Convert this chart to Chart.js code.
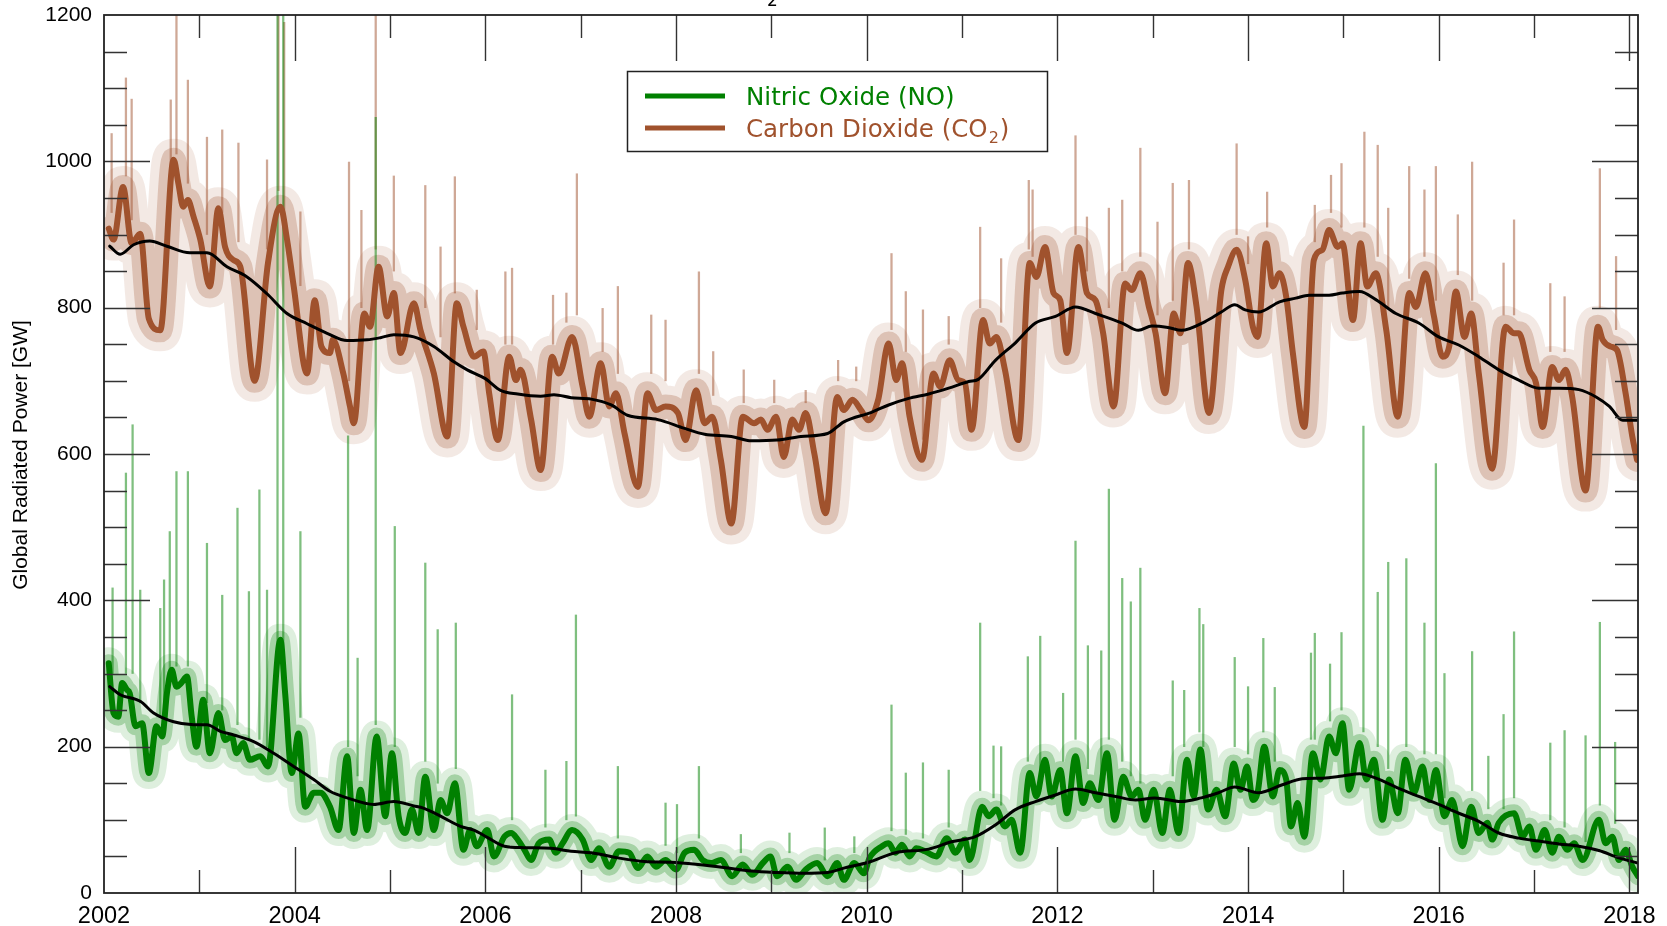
<!DOCTYPE html>
<html>
<head>
<meta charset="utf-8">
<script src="https://cdn.jsdelivr.net/npm/chart.js@4.4.1/dist/chart.umd.min.js"></script>
<style>
  html, body { margin: 0; padding: 0; background: #ffffff; }
  #wrap { width: 1667px; height: 926px; }
</style>
</head>
<body>
<div id="wrap"><canvas id="c" width="1667" height="926"></canvas></div>
<script>
// ---------------- DATA ----------------
const xTickLabels = [2002, 2004, 2006, 2008, 2010, 2012, 2014, 2016, 2018];
const yTickLabels = [0, 200, 400, 600, 800, 1000, 1200];

// CO2: smoothed (thick) series, time [year] and value [GW]
const coTimes = [2002.05,2002.10,2002.20,2002.29,2002.38,2002.47,2002.59,2002.73,2002.78,2002.83,2002.88,2002.94,2003.01,2003.11,2003.20,2003.27,2003.36,2003.43,2003.58,2003.72,2003.85,2003.92,2003.99,2004.13,2004.21,2004.28,2004.37,2004.40,2004.51,2004.58,2004.62,2004.73,2004.79,2004.88,2004.97,2005.04,2005.11,2005.25,2005.32,2005.46,2005.60,2005.70,2005.77,2005.88,2005.98,
 2006.04,2006.13,2006.25,2006.32,2006.37,2006.48,2006.58,2006.70,2006.77,2006.91,2007.02,2007.09,2007.21,2007.30,2007.37,2007.46,2007.60,2007.70,2007.79,2007.89,2008.02,2008.10,2008.21,2008.30,2008.38,2008.47,2008.58,2008.70,2008.82,2008.89,2008.96,2009.05,2009.13,2009.22,2009.29,2009.36,2009.45,2009.57,2009.69,2009.76,2009.85,2009.94,
 2010.02,2010.12,2010.23,2010.31,2010.37,2010.45,2010.58,2010.70,2010.77,2010.87,2010.96,2011.03,2011.10,2011.22,2011.29,2011.36,2011.45,2011.59,2011.71,2011.78,2011.87,2011.96,2012.03,2012.10,2012.22,2012.31,2012.40,2012.48,2012.59,2012.71,2012.78,2012.87,2012.96,2013.03,2013.13,2013.22,2013.29,2013.37,2013.46,2013.59,2013.72,2013.79,2013.88,2013.97,
 2014.05,2014.10,2014.19,2014.26,2014.33,2014.40,2014.47,2014.59,2014.69,2014.78,2014.85,2014.94,2014.99,2015.10,2015.18,2015.25,2015.34,2015.45,2015.57,2015.69,2015.76,2015.86,2015.95,2016.04,2016.11,2016.18,2016.27,2016.34,2016.42,2016.56,2016.70,2016.79,2016.84,2016.95,2017.02,2017.09,2017.19,2017.26,2017.33,2017.40,2017.54,2017.67,2017.72,2017.80,2017.87,2017.96,2018.03,2018.08];
const coThick = [908,893,965,888,901,785,769,1002,970,938,947,924,893,829,936,883,865,856,700,861,938,893,829,710,810,747,738,756,710,665,642,792,774,856,788,820,738,806,769,710,624,806,774,733,740,
 683,619,733,701,715,647,578,733,710,760,692,651,724,665,683,628,555,683,660,665,656,619,687,642,651,592,505,651,642,647,633,651,596,647,633,656,601,519,678,660,674,660,
 646,674,751,701,724,651,592,710,692,728,701,697,633,783,751,760,715,619,861,842,883,820,810,738,883,820,810,765,665,833,824,847,801,765,683,792,765,861,801,656,824,856,879,838,
 774,760,888,829,847,815,738,637,865,879,906,883,888,783,888,829,847,769,651,820,801,847,788,733,747,822,760,792,710,580,774,765,765,715,697,637,719,701,715,678,550,774,756,747,742,683,624,592];

// CO2: long running mean (black)
const coMeanT = [2002.06,2002.17,2002.31,2002.48,2002.66,2002.90,2003.08,2003.29,2003.50,2003.71,2003.92,2004.13,2004.34,2004.55,2004.76,2004.90,2005.04,2005.25,2005.46,2005.67,2005.81,2006.00,2006.16,2006.34,2006.58,2006.72,2006.90,2007.11,2007.32,2007.49,2007.81,2008.09,2008.30,2008.58,2008.79,2009.06,2009.31,2009.59,2009.76,2010.05,2010.23,2010.44,2010.65,2010.86,2011.07,2011.17,2011.35,2011.56,2011.77,2011.98,2012.19,2012.40,2012.68,2012.85,2012.99,2013.16,2013.30,2013.55,2013.72,2013.86,2013.97,2014.11,2014.33,2014.50,2014.64,2014.85,2014.99,2015.17,2015.34,2015.55,2015.79,2016.00,2016.21,2016.42,2016.63,2016.84,2017.05,2017.26,2017.47,2017.65,2017.79,2017.93,2018.09];
const coMean = [884,873,886,891,884,875,875,856,842,819,792,778,765,755,756,759,763,760,747,726,715,703,687,682,679,681,677,675,667,653,647,635,627,624,618,619,624,628,644,657,667,676,682,690,699,702,728,752,779,788,801,792,779,769,775,773,769,781,794,804,797,794,808,813,817,817,820,822,811,792,779,760,749,733,715,701,690,690,688,678,665,646,646];

// CO2: tall thin daily spikes (time, base, top)
const coSpikeT    = [2002.08,2002.23,2002.29,2002.70,2002.76,2002.88,2003.08,2003.24,2003.41,2003.71,2003.83,2003.89,2004.06,2004.57,2004.70,2004.85,2005.04,2005.37,2005.53,2005.68,2005.91,2006.21,2006.28,2006.71,2006.85,2006.96,2007.23,2007.39,2007.74,2007.89,2008.24,2008.39,2008.71,2009.03,2009.36,2009.70,2009.89,2010.26,2010.41,2010.59,2010.86,2011.19,2011.41,2011.70,2011.74,2012.19,2012.31,2012.54,2012.68,2012.87,2013.05,2013.21,2013.38,2013.88,2014.00,2014.20,2014.70,2014.87,2014.98,2015.22,2015.36,2015.47,2015.69,2015.85,2015.97,2016.20,2016.35,2016.68,2016.79,2017.17,2017.32,2017.69,2017.86];
const coSpikeBase = [930,980,920,990,1010,970,900,930,890,880,960,930,830,700,800,880,850,800,760,820,770,750,750,750,780,790,740,710,710,700,710,680,670,670,670,700,700,770,740,620,750,800,780,880,870,900,850,800,850,870,790,810,880,900,860,910,890,930,910,910,870,800,840,870,810,845,810,790,790,740,740,800,770];
const coSpikeTop  = [1038,1114,1085,1084,1205,1111,1033,1043,1025,1002,1205,1190,931,999,933,1205,980,967,883,979,824,849,854,817,820,983,799,829,790,783,849,740,715,701,687,728,719,874,822,797,788,910,867,974,961,1035,924,936,947,1018,917,970,974,1024,897,958,940,981,997,1040,1022,936,993,961,993,927,999,861,920,833,815,990,870];

// NO: smoothed (thick) series
const noTimes = [2002.05,2002.10,2002.15,2002.19,2002.24,2002.27,2002.33,2002.40,2002.47,2002.55,2002.61,2002.66,2002.71,2002.76,2002.81,2002.87,2002.92,2002.97,2003.04,2003.11,2003.20,2003.27,2003.34,2003.39,2003.46,2003.53,2003.64,2003.72,2003.85,2003.90,2003.97,2004.04,2004.11,2004.20,2004.27,2004.37,2004.46,2004.55,2004.62,2004.69,2004.76,2004.86,2004.95,2005.02,2005.09,2005.16,2005.23,2005.30,2005.37,2005.46,2005.53,2005.60,2005.68,2005.77,2005.84,2005.91,2006.02,
 2006.09,2006.20,2006.27,2006.34,2006.41,2006.48,2006.56,2006.67,2006.74,2006.81,2006.91,2007.02,2007.11,2007.19,2007.30,2007.40,2007.51,2007.60,2007.70,2007.79,2007.89,2008.00,2008.09,2008.19,2008.28,2008.37,2008.47,2008.59,2008.70,2008.80,2008.91,2008.99,2009.06,2009.17,2009.26,2009.36,2009.48,2009.59,2009.69,2009.76,2009.87,2009.97,
 2010.03,2010.16,2010.23,2010.30,2010.37,2010.45,2010.52,2010.61,2010.73,2010.84,2010.93,2011.03,2011.08,2011.21,2011.28,2011.36,2011.45,2011.52,2011.61,2011.71,2011.78,2011.87,2011.94,2012.03,2012.10,2012.19,2012.27,2012.34,2012.43,2012.52,2012.60,2012.69,2012.78,2012.85,2012.92,2013.01,2013.10,2013.18,2013.27,2013.36,2013.43,2013.50,2013.58,2013.67,2013.76,2013.85,2013.92,2013.99,
 2014.05,2014.10,2014.17,2014.26,2014.33,2014.40,2014.45,2014.52,2014.59,2014.68,2014.76,2014.85,2014.92,2014.99,2015.06,2015.17,2015.24,2015.32,2015.41,2015.48,2015.57,2015.65,2015.74,2015.83,2015.90,2015.97,2016.06,2016.14,2016.25,2016.34,2016.42,2016.51,2016.56,2016.63,2016.79,2016.88,2016.95,2017.02,2017.11,2017.19,2017.26,2017.35,2017.42,2017.51,2017.68,2017.75,2017.82,2017.89,2017.96,2018.03,2018.09];
const noThick = [314,246,241,287,278,273,228,232,164,228,214,273,305,282,287,296,241,200,264,191,246,209,214,191,205,182,187,173,346,273,164,218,118,137,137,118,86,187,82,141,86,214,105,191,105,82,114,82,159,86,127,109,150,59,86,64,86,
 50,77,82,73,59,45,68,73,55,68,86,73,45,61,36,57,55,34,50,36,45,32,55,59,45,41,45,23,39,25,41,50,23,36,18,32,41,23,41,18,41,27,
 48,64,68,55,66,50,61,57,50,75,55,73,45,118,105,114,91,100,55,164,132,182,132,168,109,187,123,150,127,191,100,159,132,141,100,141,82,141,82,182,132,196,114,141,105,177,141,173,
 127,137,200,132,168,155,91,123,77,191,155,214,191,232,141,205,155,182,100,155,109,182,137,173,127,168,105,127,64,118,82,96,73,96,109,77,91,59,86,55,77,59,68,45,100,68,77,45,59,36,23];

// NO: long running mean (black)
const noMeanT = [2002.06,2002.17,2002.38,2002.52,2002.73,2002.94,2003.08,2003.22,2003.36,2003.57,2003.78,2003.99,2004.20,2004.37,2004.55,2004.83,2005.04,2005.25,2005.35,2005.53,2005.74,2005.88,2006.02,2006.20,2006.41,2006.69,2006.90,2007.11,2007.39,2007.67,2007.95,2008.23,2008.50,2008.79,2009.06,2009.34,2009.59,2009.76,2010.02,2010.30,2010.65,2010.89,2011.14,2011.35,2011.56,2011.77,2011.98,2012.19,2012.40,2012.61,2012.82,2013.02,2013.30,2013.51,2013.69,2013.86,2014.11,2014.36,2014.57,2014.78,2014.99,2015.17,2015.34,2015.58,2015.79,2016.00,2016.21,2016.42,2016.63,2016.84,2017.05,2017.26,2017.47,2017.68,2017.89,2018.09];
const noMean = [282,271,262,246,234,230,230,221,216,207,191,173,155,139,130,121,125,119,116,105,91,86,76,64,62,61,57,55,48,43,42,39,35,30,28,27,28,34,42,55,60,70,77,93,114,125,134,142,137,132,127,130,125,130,137,145,137,148,156,157,160,163,157,143,132,121,109,98,82,75,71,67,64,58,48,41];

// NO: tall thin daily spikes (time, base, top)
const noSpikeT    = [2002.09,2002.23,2002.30,2002.38,2002.59,2002.63,2002.69,2002.76,2002.88,2003.08,2003.24,2003.40,2003.52,2003.63,2003.71,2003.82,2003.88,2004.06,2004.56,2004.66,2004.85,2005.05,2005.37,2005.50,2005.69,2006.28,2006.63,2006.85,2006.95,2007.39,2007.89,2008.01,2008.24,2008.68,2009.19,2009.56,2009.87,2010.26,2010.41,2010.59,2010.86,2011.19,2011.33,2011.41,2011.69,2011.82,2012.06,2012.19,2012.32,2012.46,2012.54,2012.68,2012.77,2012.87,2013.21,2013.33,2013.49,2013.53,2013.86,2014.00,2014.16,2014.28,2014.66,2014.70,2014.86,2014.98,2015.21,2015.36,2015.47,2015.66,2015.85,2015.97,2016.06,2016.35,2016.52,2016.68,2016.79,2017.17,2017.32,2017.54,2017.69,2017.85];
const noSpikeBase = [300,300,300,260,240,240,300,310,310,260,250,230,210,210,200,330,330,240,200,160,230,200,180,150,170,100,90,100,105,75,65,55,75,55,55,45,55,85,80,75,90,140,130,120,180,160,180,210,170,160,210,180,160,150,160,200,220,200,200,190,220,180,210,210,235,250,220,200,170,200,190,190,130,140,115,115,130,100,90,70,120,95];
const noSpikeTop  = [417,574,640,414,389,428,494,576,576,478,407,526,412,551,414,1205,1205,494,625,321,1060,501,451,360,369,271,168,180,380,173,123,121,173,80,82,89,77,257,164,178,168,369,201,200,323,351,273,481,338,331,552,430,398,444,290,277,389,367,322,282,348,281,328,355,313,356,638,411,452,457,369,587,300,330,187,244,357,205,222,215,370,206];

// ---------------- STYLE ----------------
const GREEN = '#008000';
const BROWN = '#A0522D';

const pts = (ts, vs) => ts.map((t, i) => ({ x: t, y: vs[i] }));
const bars = (ts, lo, hi) => ts.map((t, i) => ({ x: t, y: [lo[i], hi[i]] }));

const lineBase = { type: 'line', pointRadius: 0, pointHoverRadius: 0, fill: false, clip: 0, cubicInterpolationMode: 'monotone', borderJoinStyle: 'round', borderCapStyle: 'round' };

const datasets = [
  Object.assign({}, lineBase, { label: 'CO2 mean', data: pts(coMeanT, coMean), borderColor: '#000', borderWidth: 3, order: 0 }),
  Object.assign({}, lineBase, { label: 'NO mean', data: pts(noMeanT, noMean), borderColor: '#000', borderWidth: 3, order: 0 }),
  Object.assign({}, lineBase, { label: 'Nitric Oxide (NO)', data: pts(noTimes, noThick), borderColor: GREEN, borderWidth: 6, order: 1 }),
  Object.assign({}, lineBase, { label: 'Carbon Dioxide (CO2)', data: pts(coTimes, coThick), borderColor: BROWN, borderWidth: 6, order: 2 }),
  { type: 'bar', label: 'NO daily spikes', data: bars(noSpikeT, noSpikeBase, noSpikeTop), backgroundColor: 'rgba(0,128,0,0.5)', barThickness: 1.6, grouped: false, clip: 0, order: 3 },
  { type: 'bar', label: 'CO2 daily spikes', data: bars(coSpikeT, coSpikeBase, coSpikeTop), backgroundColor: 'rgba(160,82,45,0.5)', barThickness: 1.6, grouped: false, clip: 0, order: 4 },
  // daily scatter band around the smoothed curves (soft inner + outer halo)
  Object.assign({}, lineBase, { label: 'NO daily', data: pts(noTimes, noThick), borderColor: 'rgba(0,128,0,0.26)', borderWidth: 18, order: 5 }),
  Object.assign({}, lineBase, { label: 'NO daily outer', data: pts(noTimes, noThick), borderColor: 'rgba(0,128,0,0.13)', borderWidth: 32, order: 6 }),
  Object.assign({}, lineBase, { label: 'CO2 daily', data: pts(coTimes, coThick), borderColor: 'rgba(160,82,45,0.26)', borderWidth: 24, order: 7 }),
  Object.assign({}, lineBase, { label: 'CO2 daily outer', data: pts(coTimes, coThick), borderColor: 'rgba(160,82,45,0.13)', borderWidth: 42, order: 8 })
];

const PLOT = { majorLen: 46, minorLen: 23 };

const framePlugin = {
  id: 'frame',
  afterDatasetsDraw(chart) {
    const { ctx, chartArea: a, scales } = chart;
    const xs = scales.x, ys = scales.y;
    ctx.save();
    ctx.setLineDash([]);
    ctx.strokeStyle = '#333';
    ctx.lineWidth = 1.4;
    ctx.beginPath();
    for (let v = 50; v < 1200; v += 50) {
      const y = Math.round(ys.getPixelForValue(v)) + 0.5;
      const len = (v % 200 === 0) ? PLOT.majorLen : PLOT.minorLen;
      ctx.moveTo(a.left, y); ctx.lineTo(a.left + len, y);
      ctx.moveTo(a.right, y); ctx.lineTo(a.right - len, y);
    }
    for (let yr = 2003; yr <= 2018; yr++) {
      const x = Math.round(xs.getPixelForValue(yr)) + 0.5;
      const len = (yr % 2 === 0) ? PLOT.majorLen : PLOT.minorLen;
      ctx.moveTo(x, a.bottom); ctx.lineTo(x, a.bottom - len);
      ctx.moveTo(x, a.top); ctx.lineTo(x, a.top + len);
    }
    ctx.stroke();
    ctx.strokeStyle = '#222';
    ctx.lineWidth = 1.8;
    ctx.strokeRect(a.left, a.top, a.right - a.left, a.bottom - a.top);
    ctx.restore();
  },
  afterDraw(chart) {
    const { ctx } = chart;
    ctx.save();
    ctx.setLineDash([]);
    const bx = 627, by = 71, bw = 420, bh = 80;
    ctx.fillStyle = '#fff';
    ctx.fillRect(bx, by, bw, bh);
    ctx.strokeStyle = '#222';
    ctx.lineWidth = 1.5;
    ctx.strokeRect(bx + 0.5, by + 0.5, bw, bh);
    ctx.lineWidth = 5;
    ctx.lineCap = 'butt';
    ctx.strokeStyle = GREEN;
    ctx.beginPath(); ctx.moveTo(645, 96); ctx.lineTo(725, 96); ctx.stroke();
    ctx.strokeStyle = BROWN;
    ctx.beginPath(); ctx.moveTo(645, 128); ctx.lineTo(725, 128); ctx.stroke();
    ctx.textBaseline = 'alphabetic';
    ctx.textAlign = 'left';
    ctx.font = '24.5px "DejaVu Sans"';
    ctx.fillStyle = GREEN;
    ctx.fillText('Nitric Oxide (NO)', 746, 105);
    ctx.fillStyle = BROWN;
    const t1 = 'Carbon Dioxide (CO';
    ctx.fillText(t1, 746, 137);
    const w = ctx.measureText(t1).width;
    ctx.font = '16px "DejaVu Sans"';
    ctx.fillText('2', 746 + w + 1, 143);
    const w2 = ctx.measureText('2').width;
    ctx.font = '24.5px "DejaVu Sans"';
    ctx.fillText(')', 746 + w + w2 + 2, 137);

    ctx.save();
    ctx.translate(21, 455);
    ctx.rotate(-Math.PI / 2);
    ctx.textAlign = 'center';
    ctx.textBaseline = 'middle';
    ctx.fillStyle = '#000';
    ctx.font = '21px "Liberation Sans"';
    ctx.fillText('Global Radiated Power [GW]', 0, 0);
    ctx.restore();

    ctx.fillStyle = '#000';
    ctx.font = '17px "DejaVu Sans"';
    ctx.textAlign = 'left';
    ctx.textBaseline = 'alphabetic';
    ctx.fillText('2', 767, 6);
    ctx.restore();
  }
};

new Chart(document.getElementById('c'), {
  type: 'line',
  data: { datasets },
  options: {
    responsive: false,
    animation: false,
    devicePixelRatio: 1,
    layout: { padding: { left: 0, right: 29, top: 15, bottom: 0 } },
    plugins: { legend: { display: false }, tooltip: { enabled: false }, title: { display: false } },
    scales: {
      x: {
        type: 'linear', min: 2002, max: 2018.09, offset: false,
        grid: { display: false, drawTicks: false },
        border: { display: false },
        ticks: {
          stepSize: 2, includeBounds: false, autoSkip: false, maxRotation: 0, padding: 9,
          color: '#000', font: { family: 'Liberation Sans', size: 23.5 },
          callback: (v) => xTickLabels.includes(Math.round(v)) ? String(Math.round(v)) : ''
        },
        afterFit: (s) => { s.height = 33; s.paddingLeft = 0; s.paddingRight = 0; }
      },
      y: {
        type: 'linear', min: 0, max: 1200,
        grid: { display: false, drawTicks: false },
        border: { display: false },
        ticks: {
          stepSize: 200, padding: 12, color: '#000', font: { family: 'Liberation Sans', size: 21 },
          callback: (v) => yTickLabels.includes(Math.round(v)) ? String(Math.round(v)) : ''
        },
        afterFit: (s) => { s.width = 104; s.paddingTop = 0; s.paddingBottom = 0; }
      }
    }
  },
  plugins: [framePlugin]
});
</script>
</body>
</html>
